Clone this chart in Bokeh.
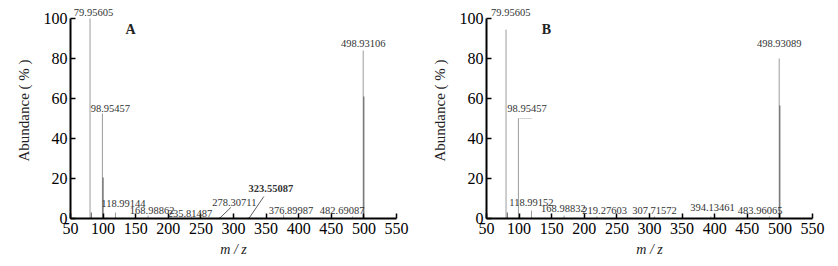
from bokeh.plotting import figure
from bokeh.layouts import row
from bokeh.models import ColumnDataSource, LabelSet, Label, FixedTicker, Range1d
from bokeh.embed import file_html
from bokeh.resources import INLINE

# ---------------- data ----------------
x_ticks = [50, 100, 150, 200, 250, 300, 350, 400, 450, 500, 550]
y_ticks = [0, 20, 40, 60, 80, 100]

a_mz = [79.95605, 98.95457, 118.99144, 168.98862, 235.81487, 278.30711,
        323.55087, 376.89987, 482.69087, 498.93106]
a_int = [100, 52.5, 3, 1.5, 1, 0.6, 0.6, 2, 1, 84]
a_labels = ["79.95605", "98.95457", "118.99144", "168.98862", "235.81487",
            "278.30711", "323.55087", "376.89987", "482.69087", "498.93106"]
a_minor_mz = [81.96, 99.95, 499.93]
a_minor_int = [3, 20.5, 61]

b_mz = [79.95605, 98.95457, 118.99152, 168.98832, 219.27603, 307.71572,
        394.13461, 483.96065, 498.93089]
b_int = [94.5, 50, 4, 1.5, 1, 1, 1, 1, 80]
b_labels = ["79.95605", "98.95457", "118.99152", "168.98832", "219.27603",
            "307.71572", "394.13461", "483.96065", "498.93089"]
b_minor_mz = [81.96, 499.93]
b_minor_int = [3, 56.5]

# ---------------- layout (pixel offsets of peak labels) ----------------
a_dx = [3.5, 8, 8, 4, -1.6, 15, 22, 7.4, -10.5, 0]
a_dy = [3, 2, 6, 2, 0, 11, 25, 1, 3, 3.3]
a_bold = ["normal"] * 6 + ["bold"] + ["normal"] * 3
a_leader = [5, 6]          # indices of labels with leader lines
a_leader_end = [(11.5, 11), (15, 22)]

b_dx = [4.7, 8.6, 0, -0.7, 7.8, 0, 1.6, -9.3, 0]
b_dy = [14, 7, 4.3, 4, 3, 3, 6, 3, 11.3]
b_bold = ["normal"] * 9

Y_TOP = 108                      # headroom above 100 % for the peak labels
FRAME_W, FRAME_H = 326, 2 * Y_TOP
XS = FRAME_W / 500.0
YS = FRAME_H / float(Y_TOP)
SERIF = "Liberation Serif"


def panel(tag, mz, inten, labels, dx, dy, bold, minor_mz, minor_int,
          left, right, width, leaders=None, dotted=None):
    p = figure(width=width, height=266, output_backend="svg",
               toolbar_location=None,
               x_range=Range1d(50, 550), y_range=Range1d(0, Y_TOP),
               min_border_left=left, min_border_right=right,
               min_border_top=266 - 48 - FRAME_H, min_border_bottom=48)
    p.outline_line_color = None
    p.xgrid.visible = False
    p.ygrid.visible = False
    p.background_fill_color = "white"
    p.border_fill_color = "white"

    src = ColumnDataSource(dict(x=mz, y=inten, z=[0] * len(mz), t=labels,
                                dx=dx, dy=dy, fs=bold))
    p.segment(x0="x", y0="z", x1="x", y1="y", source=src,
              line_color="#9c9c9c", line_width=1)
    msrc = ColumnDataSource(dict(x=minor_mz, y=minor_int, z=[0] * len(minor_mz)))
    p.segment(x0="x", y0="z", x1="x", y1="y", source=msrc,
              line_color="#5a5a5a", line_width=1)

    if leaders:
        idx, ends = leaders
        lx0 = [mz[i] for i in idx]
        ly0 = [0 for i in idx]
        lx1 = [mz[i] + e[0] / XS for i, e in zip(idx, ends)]
        ly1 = [e[1] / YS for e in ends]
        p.segment(x0=lx0, y0=ly0, x1=lx1, y1=ly1, line_color="#333333",
                  line_width=0.8)
    if dotted is not None:
        i, length = dotted
        p.segment(x0=[mz[i]], y0=[inten[i]], x1=[mz[i] + length / XS],
                  y1=[inten[i]], line_color="#aaaaaa", line_width=1,
                  line_dash="1 1")

    ls = LabelSet(x="x", y="y", text="t", x_offset="dx", y_offset="dy",
                  source=src, text_align="center", text_baseline="alphabetic",
                  text_font=SERIF, text_font_size="10.5px",
                  text_color="#333333", text_font_style="fs")
    p.add_layout(ls)

    p.add_layout(Label(x=142, y=94.5, text=tag, text_align="center",
                       text_baseline="middle", text_font=SERIF,
                       text_font_size="14px", text_font_style="bold",
                       text_color="#222222"))

    p.xaxis.ticker = FixedTicker(ticks=x_ticks, minor_ticks=[])
    p.yaxis.ticker = FixedTicker(ticks=y_ticks, minor_ticks=[])
    p.yaxis.bounds = (0, 100)
    for ax in (p.xaxis[0], p.yaxis[0]):
        ax.axis_line_width = 2
        ax.axis_line_color = "black"
        ax.major_tick_in = 5
        ax.major_tick_out = 0
        ax.minor_tick_in = 0
        ax.minor_tick_out = 0
        ax.major_tick_line_width = 1.5
        ax.major_tick_line_color = "black"
        ax.major_label_text_font = SERIF
        ax.major_label_text_font_size = "16px"
        ax.major_label_text_color = "black"
        ax.axis_label_text_font = SERIF
        ax.axis_label_text_color = "#222222"
    p.xaxis.axis_label = "m / z"
    p.xaxis.axis_label_text_font_size = "14px"
    p.xaxis.axis_label_text_font_style = "italic"
    p.xaxis.major_label_standoff = 4
    p.xaxis.axis_label_standoff = 5
    p.yaxis.axis_label = "Abundance ( % )"
    p.yaxis.axis_label_text_font_size = "15px"
    p.yaxis.axis_label_text_font_style = "normal"
    p.yaxis.major_label_standoff = 3
    p.yaxis.axis_label_standoff = 9
    return p


pa = panel("A", a_mz, a_int, a_labels, a_dx, a_dy, a_bold,
           a_minor_mz, a_minor_int, left=70, right=22, width=418,
           leaders=(a_leader, a_leader_end))
pb = panel("B", b_mz, b_int, b_labels, b_dx, b_dy, b_bold,
           b_minor_mz, b_minor_int, left=68, right=26, width=420,
           dotted=(1, 13))

layout = row(pa, pb)
open("out.html", "w").write(file_html(layout, INLINE))
